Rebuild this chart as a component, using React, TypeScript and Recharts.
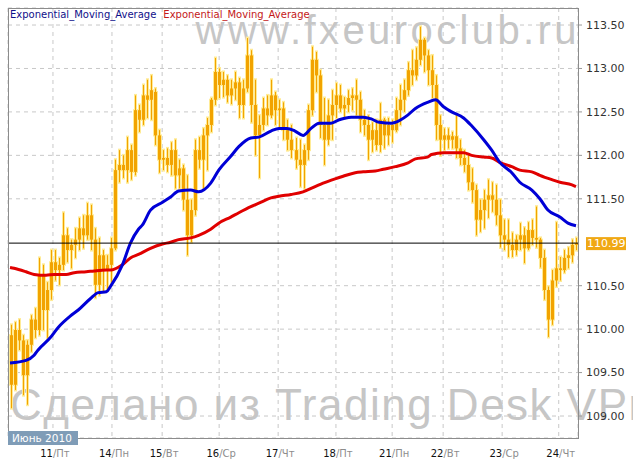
import { ComposedChart, Bar, Line, XAxis, YAxis, CartesianGrid, ReferenceLine } from 'recharts';

// hourly-ish candles, [open, high, low, close], USD/JPY 10..24 June 2010
const candles: [number, number, number, number][] = [
  [109.93, 110.05, 109.09, 109.36],
  [109.36, 110.08, 109.30, 109.99],
  [109.99, 110.11, 109.76, 109.87],
  [109.87, 109.93, 109.24, 109.47],
  [109.47, 109.87, 109.13, 109.82],
  [109.82, 110.16, 109.74, 110.11],
  [110.11, 110.24, 109.90, 109.99],
  [109.99, 110.82, 109.93, 110.62],
  [110.62, 110.74, 109.99, 110.22],
  [110.22, 110.54, 109.90, 110.45],
  [110.45, 110.91, 110.34, 110.77],
  [110.77, 110.91, 110.56, 110.68],
  [110.68, 110.82, 110.51, 110.74],
  [110.74, 111.34, 110.68, 111.08],
  [111.08, 111.16, 110.77, 110.91],
  [110.91, 111.03, 110.70, 110.97],
  [110.97, 111.16, 110.82, 111.03],
  [111.03, 111.28, 110.91, 111.16],
  [111.16, 111.31, 110.93, 111.08],
  [111.08, 111.45, 111.03, 111.31],
  [111.31, 111.43, 110.91, 111.03],
  [111.03, 111.16, 110.36, 110.51],
  [110.51, 111.05, 110.39, 110.85],
  [110.85, 110.91, 110.43, 110.68],
  [110.68, 110.85, 110.45, 110.74],
  [110.74, 111.05, 110.54, 110.93],
  [110.93, 111.95, 110.91, 111.83],
  [111.83, 112.06, 111.69, 111.89],
  [111.89, 112.00, 111.74, 111.83],
  [111.83, 112.21, 111.69, 112.06],
  [112.06, 112.12, 111.72, 111.81],
  [111.81, 112.69, 111.77, 112.52],
  [112.52, 112.58, 112.27, 112.41],
  [112.41, 112.81, 112.35, 112.69],
  [112.69, 112.87, 112.43, 112.64],
  [112.64, 112.92, 112.41, 112.75],
  [112.73, 112.77, 112.12, 112.23],
  [112.23, 112.29, 111.80, 111.95],
  [111.95, 112.06, 111.83, 111.97],
  [111.97, 112.08, 111.81, 111.89],
  [111.89, 112.15, 111.77, 112.06],
  [112.06, 112.18, 111.62, 111.77],
  [111.77, 111.95, 111.62, 111.85],
  [111.85, 111.89, 111.37, 111.49],
  [111.49, 111.77, 110.85, 111.08],
  [111.08, 111.49, 111.00, 111.37],
  [111.37, 112.18, 111.31, 112.06],
  [112.06, 112.21, 111.85, 111.95],
  [111.95, 112.31, 111.62, 112.23],
  [112.23, 112.43, 111.83, 112.35],
  [112.35, 112.66, 112.27, 112.64],
  [112.64, 113.12, 112.58, 112.96],
  [112.96, 113.00, 112.66, 112.81],
  [112.81, 112.96, 112.67, 112.87],
  [112.87, 112.92, 112.61, 112.69],
  [112.69, 112.87, 112.59, 112.77],
  [112.77, 112.96, 112.64, 112.84],
  [112.84, 112.89, 112.43, 112.58],
  [112.58, 112.87, 112.43, 112.77],
  [112.77, 113.35, 112.73, 113.15],
  [113.15, 113.21, 112.38, 112.58],
  [112.58, 112.87, 112.00, 112.23],
  [112.23, 112.46, 111.74, 112.35],
  [112.35, 112.66, 112.29, 112.54],
  [112.54, 112.69, 112.35, 112.46],
  [112.46, 112.87, 112.43, 112.69],
  [112.69, 112.73, 112.35, 112.52],
  [112.52, 112.64, 112.31, 112.54],
  [112.54, 112.61, 112.18, 112.29],
  [112.29, 112.41, 112.06, 112.18],
  [112.18, 112.35, 111.97, 112.06],
  [112.06, 112.20, 111.85, 111.95],
  [111.95, 112.18, 111.64, 111.89],
  [111.89, 112.12, 111.62, 112.06],
  [112.06, 112.58, 111.95, 112.52],
  [112.52, 113.25, 112.46, 113.10],
  [113.10, 113.19, 112.73, 112.92],
  [112.92, 112.98, 112.20, 112.35],
  [112.35, 112.66, 111.89, 112.18],
  [112.18, 112.64, 112.12, 112.46],
  [112.46, 112.75, 112.18, 112.58],
  [112.58, 112.83, 112.43, 112.69],
  [112.69, 112.81, 112.50, 112.54],
  [112.54, 112.67, 112.43, 112.58],
  [112.58, 112.75, 112.50, 112.66],
  [112.66, 112.77, 112.52, 112.69],
  [112.69, 112.87, 112.46, 112.64],
  [112.64, 112.73, 112.27, 112.41],
  [112.41, 112.52, 112.23, 112.35],
  [112.35, 112.46, 111.95, 112.18],
  [112.18, 112.38, 112.04, 112.29],
  [112.29, 112.41, 112.06, 112.12],
  [112.12, 112.60, 112.04, 112.41],
  [112.41, 112.43, 112.08, 112.23],
  [112.23, 112.43, 112.12, 112.35],
  [112.35, 112.41, 112.15, 112.29],
  [112.29, 112.66, 112.27, 112.52],
  [112.52, 112.81, 112.35, 112.64],
  [112.64, 112.87, 112.50, 112.75],
  [112.75, 113.07, 112.69, 112.98],
  [112.98, 113.21, 112.81, 112.92],
  [112.92, 113.24, 112.87, 113.10],
  [113.10, 113.48, 113.04, 113.33],
  [113.33, 113.35, 112.96, 113.15],
  [113.15, 113.21, 112.81, 112.98],
  [112.98, 113.15, 112.66, 112.81],
  [112.81, 112.92, 112.18, 112.35],
  [112.35, 112.46, 112.00, 112.18],
  [112.18, 112.31, 112.06, 112.23],
  [112.23, 112.31, 112.08, 112.18],
  [112.18, 112.27, 112.08, 112.22],
  [112.22, 112.46, 111.97, 112.08],
  [112.08, 112.18, 111.89, 111.97],
  [111.97, 112.06, 111.81, 111.89],
  [111.89, 112.00, 111.60, 111.69],
  [111.69, 111.85, 111.46, 111.60],
  [111.60, 111.66, 111.08, 111.26],
  [111.26, 111.49, 111.12, 111.37],
  [111.37, 111.60, 111.16, 111.49],
  [111.49, 111.72, 111.28, 111.54],
  [111.54, 111.69, 111.35, 111.49],
  [111.49, 111.66, 111.20, 111.31],
  [111.31, 111.49, 110.94, 111.08],
  [111.08, 111.26, 110.91, 111.03],
  [111.03, 111.26, 110.83, 110.97],
  [110.97, 111.11, 110.83, 110.91],
  [110.91, 111.08, 110.85, 111.03],
  [111.03, 111.22, 110.91, 111.08],
  [111.08, 111.17, 110.76, 110.93],
  [110.93, 111.23, 110.91, 111.14],
  [111.14, 111.26, 110.97, 111.05],
  [111.05, 111.41, 110.94, 111.03],
  [111.03, 111.05, 110.71, 110.82],
  [110.82, 110.91, 110.34, 110.45],
  [110.45, 110.49, 109.91, 110.11],
  [110.11, 110.68, 110.05, 110.56],
  [110.56, 111.23, 110.49, 110.70],
  [110.70, 110.83, 110.56, 110.68],
  [110.68, 110.91, 110.65, 110.82],
  [110.82, 110.94, 110.70, 110.85],
  [110.85, 111.03, 110.77, 110.97],
  [110.97, 111.05, 110.91, 110.99],
];

// [candle index, value]
const fastEma: [number, number][] = [
  [0, 109.61], [4, 109.64], [6, 109.70], [7, 109.76], [10, 109.90], [12, 110.02],
  [15, 110.15], [17, 110.22], [20, 110.35], [22, 110.42], [24, 110.43], [25, 110.49],
  [28, 110.74], [30, 110.99], [32, 111.15], [33, 111.20], [35, 111.37], [38, 111.46],
  [40, 111.52], [42, 111.59], [45, 111.60], [47, 111.58], [50, 111.68], [52, 111.83],
  [55, 111.99], [57, 112.10], [60, 112.20], [62, 112.21], [65, 112.28], [67, 112.31],
  [69, 112.31], [71, 112.28], [73, 112.23], [75, 112.31], [77, 112.37], [80, 112.37],
  [82, 112.41], [85, 112.44], [88, 112.44], [90, 112.42], [92, 112.38], [95, 112.37],
  [96, 112.38], [99, 112.46], [101, 112.54], [104, 112.61], [106, 112.64], [108, 112.56],
  [110, 112.50], [113, 112.43], [115, 112.34], [118, 112.18], [120, 112.06], [122, 111.92],
  [125, 111.80], [127, 111.69], [130, 111.60], [132, 111.50], [134, 111.37], [137, 111.29],
  [139, 111.22], [141, 111.19],
];

// [candle index, value]
const slowEma: [number, number][] = [
  [0, 110.71], [1, 110.70], [4, 110.66], [6, 110.63], [9, 110.62], [11, 110.63],
  [14, 110.63], [16, 110.65], [19, 110.66], [21, 110.67], [24, 110.68], [25, 110.68],
  [28, 110.74], [30, 110.82], [32, 110.86], [35, 110.93], [38, 110.98], [40, 111.00],
  [42, 111.03], [45, 111.05], [47, 111.08], [50, 111.15], [52, 111.22], [55, 111.29],
  [57, 111.34], [60, 111.41], [62, 111.45], [65, 111.51], [67, 111.53], [70, 111.55],
  [73, 111.58], [76, 111.64], [78, 111.68], [81, 111.73], [83, 111.76], [86, 111.80],
  [88, 111.81], [91, 111.82], [93, 111.84], [96, 111.87], [99, 111.91], [101, 111.96],
  [104, 111.98], [105, 112.01], [108, 112.03], [110, 112.03], [113, 112.03], [115, 112.00],
  [118, 111.98], [120, 111.97], [122, 111.92], [125, 111.87], [127, 111.83], [130, 111.81],
  [132, 111.77], [135, 111.72], [137, 111.69], [140, 111.66], [141, 111.64],
];

const dayTicks = [10.7, 25.4, 37.9, 52.1, 66.8, 81.2, 95.2, 107.9, 122.6, 136.7];
const dayNumbers = ['11', '14', '15', '16', '17', '18', '21', '22', '23', '24'];
const weekDays = ['Пт', 'Пн', 'Вт', 'Ср', 'Чт', 'Пт', 'Пн', 'Вт', 'Ср', 'Чт'];
// 111.00 is hidden behind the last-price marker
const priceTicks = [109, 109.5, 110, 110.5, 111.5, 112, 112.5, 113, 113.5];
const lastPrice = 110.99;

type Row = {
  i: number; o: number; h: number; l: number; c: number;
  range: [number, number]; fast: number | null; slow: number | null;
};

const data: Row[] = candles.map(([o, h, l, c], i) => ({
  i, o, h, l, c, range: [l, h], fast: null, slow: null,
}));
fastEma.forEach(([i, v]) => { data[i].fast = v; });
slowEma.forEach(([i, v]) => { data[i].slow = v; });

const FONT = '"DejaVu Sans", Verdana, sans-serif';
const CANDLE = '#f2a300';
const HALO = '#ffeb96';

function Candle(props: any) {
  const { x, y, width, height, payload } = props;
  if (!payload) return null;
  const { o, h, l, c } = payload as Row;
  const cx = Math.round(x + width / 2) + 0.5;
  const k = h > l ? height / (h - l) : 0;
  const yo = y + (h - o) * k;
  const yc = y + (h - c) * k;
  const top = Math.min(yo, yc);
  const bh = Math.max(Math.abs(yo - yc), 1);
  return (
    <g>
      {/* soft yellow fringe like the terminal draws */}
      <line x1={cx} x2={cx} y1={y - 1.5} y2={y + height + 1.5} stroke={HALO} strokeWidth={3} />
      <rect x={cx - 2.5} y={top - 1} width={5} height={bh + 2} fill={HALO} />
      <line x1={cx} x2={cx} y1={y} y2={y + height} stroke={CANDLE} strokeWidth={1} />
      <rect x={cx - 1.5} y={top} width={3} height={bh} fill={CANDLE} />
    </g>
  );
}

function DayTick(props: any) {
  const { x, y, payload } = props;
  const idx = dayTicks.indexOf(payload.value);
  if (idx < 0) return null;
  return (
    <text x={x + 2} y={y + 11} textAnchor="middle" fontSize={10} fontFamily={FONT}>
      <tspan fill="#111">{dayNumbers[idx]}</tspan>
      <tspan fill="#8c8c8c">/{weekDays[idx]}</tspan>
    </text>
  );
}

function PriceLabel(props: any) {
  const vb = props.viewBox;
  if (!vb) return null;
  const left = vb.x + vb.width + 8;
  return (
    <g>
      <rect x={left} y={vb.y - 6} width={40} height={13} fill="#f0a814" />
      <text x={left + 1} y={vb.y + 4} fill="#fff" fontSize={11} fontFamily={FONT}>
        {lastPrice.toFixed(2)}
      </text>
    </g>
  );
}

export default function App() {
  return (
    <div style={{ position: 'absolute', left: 0, top: 0, width: 633, height: 467, overflow: 'hidden', background: '#fff' }}>
      <div style={{
        position: 'absolute', left: 0, top: 10, width: 580, textAlign: 'right',
        fontFamily: '"Liberation Sans", Arial, sans-serif', fontSize: 40, lineHeight: '40px',
        letterSpacing: 3.4, color: '#c6c6c6', whiteSpace: 'nowrap',
      }}>
        www.fxeuroclub.ru
      </div>
      <div style={{
        position: 'absolute', left: 10, top: 383,
        fontFamily: '"Liberation Sans", Arial, sans-serif', fontSize: 44, lineHeight: '44px',
        letterSpacing: 1.5, color: '#c6c6c6', whiteSpace: 'nowrap',
      }}>
        Сделано из Trading Desk VPro
      </div>
      <div style={{ position: 'absolute', left: 0, top: 0 }}>
        <ComposedChart width={633} height={467} data={data} margin={{ top: 8, right: 0, left: 8, bottom: 0 }}>
          <CartesianGrid stroke="#c8c8c8" strokeDasharray="4 4" />
          <XAxis
            dataKey="i"
            type="number"
            domain={[-0.5, 141.5]}
            ticks={dayTicks}
            interval={0}
            height={29}
            axisLine={false}
            tickLine={false}
            tick={<DayTick />}
          />
          <YAxis
            orientation="right"
            type="number"
            domain={[108.747, 113.696]}
            allowDataOverflow
            ticks={priceTicks}
            width={55}
            axisLine={false}
            tickSize={4}
            tickMargin={4}
            tickLine={{ stroke: '#999' }}
            tick={{ fill: '#333', fontSize: 11, fontFamily: FONT, textAnchor: 'start' }}
            tickFormatter={(v: number) => v.toFixed(2)}
          />
          <Bar dataKey="range" barSize={3} shape={<Candle />} isAnimationActive={false} />
          <Line
            type="monotone"
            dataKey="slow"
            stroke="#e00000"
            strokeWidth={3}
            dot={false}
            connectNulls
            isAnimationActive={false}
          />
          <Line
            type="monotone"
            dataKey="fast"
            stroke="#0000d6"
            strokeWidth={3}
            dot={false}
            connectNulls
            isAnimationActive={false}
          />
          <ReferenceLine y={lastPrice} stroke="#000" strokeWidth={1} label={<PriceLabel />} />
        </ComposedChart>
      </div>
      <div style={{
        position: 'absolute', left: 8, top: 8, width: 571, height: 431,
        boxSizing: 'border-box', border: '1px solid #8c8c8c', pointerEvents: 'none',
      }} />
      <div style={{ position: 'absolute', left: 10, top: 9, fontFamily: FONT, fontSize: 10, lineHeight: '12px', whiteSpace: 'nowrap' }}>
        <span style={{ color: '#10108a' }}>Exponential_Moving_Average</span>
        <span style={{ color: '#c41818', marginLeft: 7 }}>Exponential_Moving_Average</span>
      </div>
      <div style={{
        position: 'absolute', left: 8, top: 431, width: 70, height: 14, background: '#7f9cb7',
        color: '#fff', fontFamily: FONT, fontSize: 10.5, lineHeight: '14px', paddingLeft: 4,
        boxSizing: 'border-box', whiteSpace: 'nowrap',
      }}>
        Июнь 2010
      </div>
    </div>
  );
}
